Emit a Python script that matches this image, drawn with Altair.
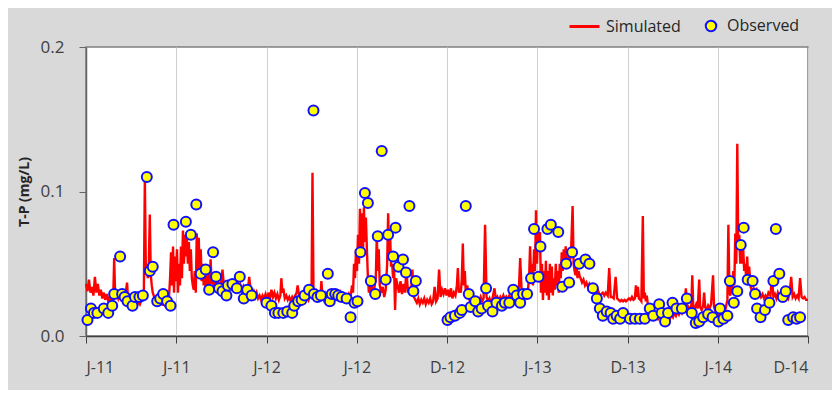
import altair as alt
import pandas as pd

# ---- data (day offset from 1 Jan 2011, T-P in mg/L) ----
sim_day = [0,3,6,9,12,15,18,21,24,27,30,33,36,39,42,45,48,51,55,57,59,62,65,68,71,74,77,80,83,85,88,
           91,94,97,100,103,106,109,112,117,119,121,123,125,127,129,131,133,135,137,
           140,143,146,149,152,155,158,161,164,167,170,172,174,176,178,180,182,184,186,188,190,192,194,196,198,
           200,202,204,206,208,210,212,214,216,218,220,222,224,226,228,230,232,234,236,238,240,242,244,
           246,248,250,252,254,256,258,261,264,267,270,273,276,279,282,285,288,291,294,297,300,303,306,309,
           312,315,318,321,324,327,330,333,336,339,342,345,348,351,354,357,360,363,366,369,372,375,378,381,
           384,387,390,393,395,397,399,402,405,408,411,414,417,420,423,426,428,430,432,435,438,441,444,447,
           450,453,456,458,460,463,466,469,472,474,476,478,481,484,487,490,493,496,499,502,505,508,511,514,
           517,520,523,526,529,532,535,538,540,542,544,546,548,550,552,554,556,558,560,562,564,566,568,570,
           572,574,576,578,580,583,586,588,590,592,594,597,600,603,606,609,611,613,615,617,619,621,623,625,
           627,630,633,636,639,642,645,648,651,654,657,660,663,666,669,672,675,678,681,684,687,690,693,696,
           699,702,705,708,711,714,717,720,723,726,729,732,735,738,741,744,747,750,752,754,756,758,760,762,
           764,766,768,771,774,777,780,783,786,789,792,795,798,801,804,807,810,813,816,819,822,826,829,832,
           835,838,841,844,847,850,853,856,859,862,865,868,871,875,878,881,884,887,890,893,896,898,900,902,
           904,906,908,910,912,914,916,918,920,922,924,926,928,930,932,934,936,938,940,942,944,946,948,950,
           952,954,956,958,960,962,964,966,968,970,972,975,978,981,984,986,988,990,992,994,996,998,1000,1003,
           1006,1009,1012,1015,1018,1021,1024,1027,1030,1033,1036,1039,1042,1045,1048,1051,1055,1058,1061,1064,
           1067,1071,1074,1077,1080,1083,1086,1089,1092,1095,1098,1101,1104,1107,1110,1112,1114,1116,1118,1121,
           1123,1126,1128,1130,1132,1134,1136,1139,1142,1145,1148,1151,1154,1157,1160,1163,1166,1169,1172,1175,
           1178,1181,1184,1187,1190,1193,1196,1199,1202,1205,1208,1211,1213,1215,1218,1221,1224,1226,1228,1231,
           1234,1237,1240,1242,1245,1248,1250,1252,1255,1258,1261,1264,1268,1270,1273,1276,1279,1282,1285,1288,
           1291,1294,1297,1299,1301,1303,1305,1307,1309,1311,1313,1315,1317,1319,1321,1323,1325,1327,1329,1331,
           1333,1335,1337,1339,1341,1344,1347,1350,1353,1356,1359,1362,1365,1368,1371,1374,1377,1380,1384,1387,
           1390,1393,1396,1399,1402,1405,1408,1411,1414,1417,1420,1423,1426,1429,1432,1435,1438,1441,1444,1447,
           1450,1453,1456,1460]
sim_val = [0.036,0.031,0.039,0.030,0.034,0.028,0.041,0.030,0.036,0.028,0.032,0.026,0.030,0.025,0.029,0.024,0.027,0.023,0.026,0.054,0.027,0.029,0.026,0.030,0.027,0.028,0.025,0.029,0.037,0.026,0.028,
           0.024,0.027,0.022,0.025,0.021,0.024,0.022,0.025,0.030,0.109,0.045,0.050,0.040,0.048,0.084,0.042,0.035,0.030,0.028,
           0.025,0.021,0.026,0.022,0.027,0.021,0.025,0.020,0.024,0.022,0.040,0.058,0.035,0.062,0.030,0.055,0.038,0.060,0.030,0.050,0.035,0.062,0.040,0.073,0.050,
           0.070,0.055,0.068,0.050,0.065,0.045,0.060,0.040,0.035,0.032,0.045,0.030,0.071,0.045,0.068,0.040,0.060,0.038,0.050,0.035,0.046,0.033,0.042,
           0.032,0.044,0.035,0.053,0.036,0.042,0.033,0.040,0.034,0.038,0.033,0.036,0.046,0.034,0.038,0.033,0.037,0.032,0.036,0.031,0.035,0.033,0.040,0.032,
           0.035,0.031,0.034,0.030,0.033,0.030,0.041,0.031,0.029,0.031,0.027,0.030,0.026,0.028,0.025,0.028,0.026,0.029,0.025,0.030,0.026,0.032,0.027,0.030,
           0.026,0.029,0.025,0.028,0.040,0.030,0.033,0.026,0.028,0.025,0.027,0.024,0.027,0.025,0.028,0.030,0.035,0.030,0.027,0.029,0.026,0.030,0.025,0.028,
           0.025,0.028,0.027,0.113,0.030,0.027,0.030,0.025,0.029,0.026,0.038,0.028,0.025,0.029,0.026,0.030,0.027,0.029,0.027,0.030,0.027,0.029,0.026,0.030,
           0.027,0.029,0.026,0.028,0.025,0.029,0.027,0.035,0.030,0.050,0.040,0.060,0.045,0.070,0.050,0.088,0.060,0.085,0.055,0.089,0.065,0.082,0.060,0.041,
           0.030,0.038,0.028,0.035,0.027,0.033,0.040,0.069,0.045,0.060,0.035,0.030,0.034,0.027,0.032,0.050,0.085,0.055,0.070,0.048,0.050,0.040,0.047,0.018,
           0.040,0.035,0.030,0.038,0.029,0.036,0.030,0.046,0.030,0.034,0.028,0.046,0.027,0.025,0.023,0.026,0.022,0.025,0.023,0.026,0.022,0.025,0.023,0.026,
           0.022,0.024,0.034,0.024,0.026,0.046,0.027,0.032,0.029,0.033,0.028,0.032,0.027,0.033,0.026,0.030,0.028,0.035,0.047,0.030,0.033,0.030,0.040,0.064,
           0.035,0.045,0.030,0.035,0.026,0.024,0.027,0.024,0.026,0.023,0.026,0.024,0.027,0.024,0.026,0.077,0.027,0.024,0.026,0.023,0.026,0.033,0.025,0.027,
           0.024,0.027,0.025,0.028,0.025,0.027,0.025,0.028,0.025,0.028,0.026,0.029,0.027,0.030,0.054,0.030,0.028,0.030,0.027,0.030,0.040,0.062,0.040,0.050,
           0.035,0.060,0.045,0.087,0.050,0.074,0.060,0.072,0.030,0.050,0.025,0.045,0.030,0.052,0.028,0.045,0.025,0.050,0.030,0.048,0.028,0.040,0.032,0.050,
           0.035,0.045,0.030,0.050,0.040,0.058,0.045,0.060,0.050,0.062,0.050,0.055,0.050,0.060,0.090,0.050,0.045,0.042,0.047,0.040,0.045,0.042,0.040,0.037,
           0.039,0.035,0.037,0.034,0.036,0.033,0.032,0.030,0.032,0.029,0.031,0.028,0.029,0.030,0.028,0.030,0.028,0.047,0.027,0.027,
           0.026,0.041,0.026,0.025,0.024,0.025,0.024,0.025,0.024,0.025,0.026,0.025,0.027,0.025,0.026,0.035,0.027,0.034,0.026,0.025,
           0.024,0.083,0.026,0.030,0.024,0.028,0.022,0.020,0.016,0.014,0.016,0.013,0.015,0.012,0.014,0.011,0.013,0.010,0.012,0.011,
           0.014,0.012,0.015,0.013,0.016,0.014,0.017,0.015,0.018,0.016,0.019,0.025,0.033,0.022,0.020,0.018,0.021,0.042,0.020,0.019,
           0.022,0.019,0.039,0.020,0.018,0.021,0.030,0.020,0.018,0.021,0.019,0.022,0.042,0.020,0.017,0.022,0.014,0.020,0.013,0.019,
           0.015,0.020,0.025,0.077,0.030,0.028,0.035,0.030,0.045,0.035,0.071,0.050,0.133,0.060,0.070,0.050,0.065,0.050,0.060,0.045,
           0.050,0.040,0.055,0.040,0.048,0.034,0.031,0.033,0.030,0.032,0.028,0.030,0.027,0.029,0.026,0.028,0.026,0.030,0.028,0.041,
           0.027,0.029,0.026,0.030,0.027,0.029,0.026,0.030,0.027,0.028,0.026,0.030,0.041,0.027,0.029,0.026,0.028,0.026,0.040,0.027,
           0.026,0.027,0.025,0.025]

obs_day = [3,10,16,23,36,45,53,57,69,73,78,84,94,99,108,115,123,129,135,144,150,156,164,171,177,202,212,223,232,242,
           249,257,263,269,276,284,287,296,305,311,319,326,335,365,375,382,389,399,407,417,421,429,436,442,451,460,461,468,475,489,
           493,497,504,510,517,527,535,543,549,555,564,570,576,585,590,598,606,611,621,626,632,641,647,654,662,667,731,737,746,756,
           760,768,774,778,787,793,800,809,813,822,830,841,847,856,864,871,878,884,892,900,906,915,919,933,940,955,963,971,977,983,
           997,1010,1018,1025,1033,1039,1045,1053,1061,1066,1073,1080,1086,1100,1110,1120,1130,1140,1147,1159,1164,1171,1177,1186,1194,1205,1215,1225,1233,1240,
           1248,1258,1267,1279,1282,1289,1297,1302,1310,1317,1324,1330,1338,1348,1353,1357,1364,1373,1382,1390,1395,1402,1409,1415,1420,1430,1437,1444]
obs_val = [0.011,0.019,0.016,0.016,0.019,0.016,0.021,0.029,0.055,0.029,0.027,0.024,0.021,0.027,0.027,0.028,0.110,0.045,0.048,0.024,0.026,0.029,0.024,0.021,0.077,0.079,0.070,0.091,0.043,0.046,
           0.032,0.058,0.041,0.033,0.031,0.028,0.035,0.036,0.033,0.041,0.026,0.032,0.028,0.023,0.021,0.016,0.016,0.016,0.017,0.016,0.021,0.024,0.025,0.028,0.032,0.156,0.029,0.027,0.028,0.043,
           0.024,0.029,0.029,0.028,0.027,0.026,0.013,0.023,0.024,0.058,0.099,0.092,0.038,0.029,0.069,0.128,0.039,0.070,0.055,0.075,0.048,0.053,0.044,0.090,0.031,0.038,0.011,0.013,0.014,0.016,
           0.018,0.090,0.029,0.020,0.024,0.017,0.019,0.033,0.021,0.017,0.023,0.021,0.023,0.023,0.032,0.028,0.023,0.029,0.029,0.040,0.074,0.041,0.062,0.074,0.077,0.072,0.034,0.050,0.037,0.058,
           0.050,0.053,0.050,0.033,0.026,0.019,0.014,0.017,0.016,0.012,0.014,0.012,0.016,0.012,0.012,0.012,0.012,0.019,0.014,0.022,0.016,0.010,0.016,0.023,0.019,0.019,0.026,0.016,0.009,0.010,
           0.013,0.015,0.013,0.010,0.019,0.012,0.014,0.038,0.023,0.031,0.063,0.075,0.039,0.038,0.029,0.019,0.013,0.018,0.023,0.038,0.074,0.043,0.027,0.031,0.011,0.013,0.012,0.013]

x_ticks = [0, 182.5, 365, 547.5, 730, 912.5, 1095, 1277.5, 1460]
x_labels = ["J-11", "J-11", "J-12", "J-12", "D-12", "J-13", "D-13", "J-14", "D-14"]
y_ticks = [0.0, 0.1, 0.2]

sim = pd.DataFrame({"day": sim_day, "tp": sim_val, "series": "Simulated"})
obs = pd.DataFrame({"day": obs_day, "tp": obs_val, "series": "Observed"})

FONT = "Open Sans"
label_expr = "[" + ",".join("'%s'" % s for s in x_labels) + "][round(datum.value / 182.5)]"

x_enc = alt.X("day:Q", scale=alt.Scale(domain=[0, 1460], nice=False, zero=False),
              axis=alt.Axis(values=x_ticks, labelExpr=label_expr, title=None, grid=True,
                            gridColor="#cfcfcf", gridWidth=1, tickSize=7, tickColor="#404040",
                            domainColor="#404040", domainWidth=1.5, labelPadding=16,
                            labelFontSize=16, labelColor="#404040", labelFont=FONT))
y_enc = alt.Y("tp:Q", scale=alt.Scale(domain=[0, 0.2], nice=False),
              axis=alt.Axis(values=y_ticks, format=".1f", title="T-P (mg/L)", grid=False,
                            tickSize=7, tickColor="#666666", domainColor="#666666", domainWidth=1.5,
                            labelPadding=15, labelFontSize=17, labelColor="#404040", labelFont=FONT,
                            titleFont=FONT, titleFontSize=14, titleFontWeight="bold",
                            titleColor="#262626", titlePadding=9))

line = alt.Chart(sim).mark_line(strokeWidth=2.4, interpolate="linear").encode(
    x=x_enc, y=y_enc,
    color=alt.Color("series:N", scale=alt.Scale(domain=["Simulated"], range=["#ff0000"]),
                    legend=alt.Legend(title=None, orient="none", legendX=482, legendY=-37,
                                      direction="horizontal", symbolType="stroke",
                                      symbolSize=900, symbolStrokeWidth=3, padding=0,
                                      labelFontSize=16, labelColor="#262626", labelFont=FONT,
                                      labelOffset=5)),
)

pts = alt.Chart(obs).mark_circle(size=100, opacity=1, stroke="#1010ff", strokeWidth=2).encode(
    x=alt.X("day:Q"), y=alt.Y("tp:Q"),
    fill=alt.Fill("series:N", scale=alt.Scale(domain=["Observed"], range=["#ffff00"]),
                  legend=alt.Legend(title=None, orient="none", legendX=617, legendY=-29,
                                    direction="horizontal", symbolType="circle",
                                    symbolSize=110, symbolStrokeColor="#1010ff",
                                    symbolStrokeWidth=2, symbolOpacity=1, padding=0,
                                    labelFontSize=16, labelColor="#262626", labelFont=FONT,
                                    labelOffset=8)),
)

chart = alt.layer(line, pts).resolve_legend(color="independent", fill="independent").properties(
    width=722, height=289,
    autosize=alt.AutoSizeParams(type="none"),
    padding={"left": 78, "top": 39, "right": 24, "bottom": 54},
    background="#d9d9d9",
).configure_view(stroke="#808080", strokeWidth=1.5, fill="white")

chart.save("out.html", embed_options={"renderer": "svg", "actions": False})
